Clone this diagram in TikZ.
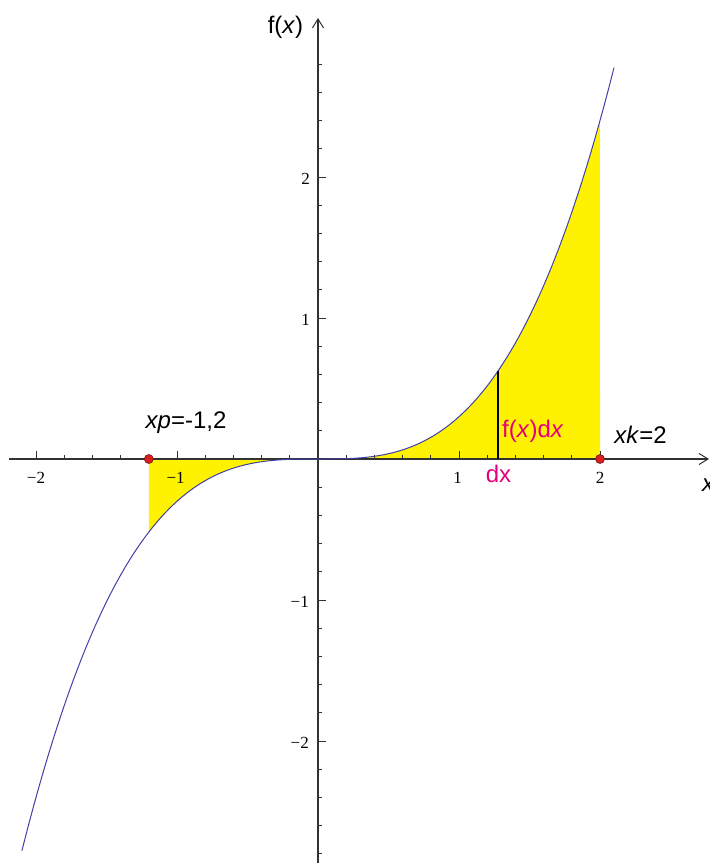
\documentclass[tikz,border=0pt]{standalone}
\usepackage{fontspec}
\setmainfont{Liberation Serif}
\newfontfamily\lsans{Liberation Sans}
\usetikzlibrary{arrows.meta}
\definecolor{axiscol}{RGB}{50,50,50}
\definecolor{curvecol}{RGB}{64,64,168}
\definecolor{magentacol}{RGB}{228,0,124}
\definecolor{dotred}{RGB}{220,30,30}
\definecolor{dotedge}{RGB}{110,20,20}
\begin{document}
\begin{tikzpicture}[x=141pt,y=141pt,
  axisline/.style={draw=axiscol, line width=1.1pt},
  tickline/.style={draw=axiscol, line width=0.8pt},
  ticklab/.style={font=\fontsize{17}{19}\selectfont, inner sep=0pt},
  sanslab/.style={font=\lsans\fontsize{24}{28}\selectfont, inner sep=0pt, anchor=base},
  magentalab/.style={sanslab, text=magentacol},
  redpoint/.style={circle, fill=dotred, draw=dotedge, line width=0.6pt, minimum size=9pt, inner sep=0pt},
  axarrow/.style={-{Straight Barb[length=9pt,width=11pt,line width=1pt]}}]
\useasboundingbox (-2.2553,-2.8652) rectangle (2.7801,3.2553);
% shaded areas
\fill[yellow] (-1.2,0) -- plot[domain=-1.2:0,samples=60] (\x,{0.3*\x*\x*\x}) -- cycle;
\fill[yellow] (0,0) -- plot[domain=0:2,samples=80] (\x,{0.3*\x*\x*\x}) -- (2,0) -- cycle;
% axes
\coordinate (xs) at (-2.1915,0);
\coordinate (xe) at (2.773,0);
\coordinate (ys) at (0,-2.95);
\coordinate (ye) at (0,3.1277);
\draw[axisline, axarrow] (xs) -- (xe);
\draw[axisline, axarrow] (ys) -- (ye);
% ticks
\foreach \i in {-10,...,10}{
  \ifnum\i=0\else
    \pgfmathsetmacro\t{\i/5}
    \pgfmathsetmacro\len{ifthenelse(mod(\i,5)==0,8,4)}
    \draw[tickline] (\t,0) -- ++(0,\len pt);
  \fi
}
\foreach \i in {-14,...,14}{
  \ifnum\i=0\else
    \pgfmathsetmacro\t{\i/5}
    \pgfmathsetmacro\len{ifthenelse(mod(\i,5)==0,8,4)}
    \draw[tickline] (0,\t) -- ++(\len pt,0);
  \fi
}
% tick labels
\node[ticklab] (lxm2) at (-2,-0.135) {−2};
\node[ticklab] (lxm1) at (-1.01,-0.135) {−1};
\node[ticklab] (lx1) at (0.99,-0.135) {1};
\node[ticklab] (lx2) at (2,-0.135) {2};
\node[ticklab, anchor=east] (ly2) at (-0.057,1.99) {2};
\node[ticklab, anchor=east] (ly1) at (-0.057,0.99) {1};
\node[ticklab, anchor=east] (lym1) at (-0.064,-1.01) {−1};
\node[ticklab, anchor=east] (lym2) at (-0.064,-2.01) {−2};
% curve
\draw[curvecol, line width=1pt] plot[domain=-2.1:2.1, samples=150] (\x,{0.3*\x*\x*\x});
% dx strip
\coordinate (dxb) at (1.277,0);
\coordinate (dxt) at (1.277,0.6247);
\draw[black, line width=2.2pt] (dxb) -- (dxt);
% points
\node[redpoint] (p1) at (-1.2,0) {};
\node[redpoint] (p2) at (2,0) {};
% labels
\node[sanslab] (fx) at (-0.2305,3.021) {f(\textit{x})};
\node[sanslab] (xpl) at (-0.936,0.213) {\textit{xp}=-1,2};
\node[sanslab] (xkl) at (2.287,0.113) {\textit{xk}=2};
\node[magentalab, anchor=base west] (fxdx) at (1.305,0.156) {f(\textit{x})d\textit{x}};
\node[magentalab] (dxl) at (1.280,-0.170) {dx};
\node[sanslab] (xl) at (2.770,-0.234) {\textit{x}};
\end{tikzpicture}
\end{document}
